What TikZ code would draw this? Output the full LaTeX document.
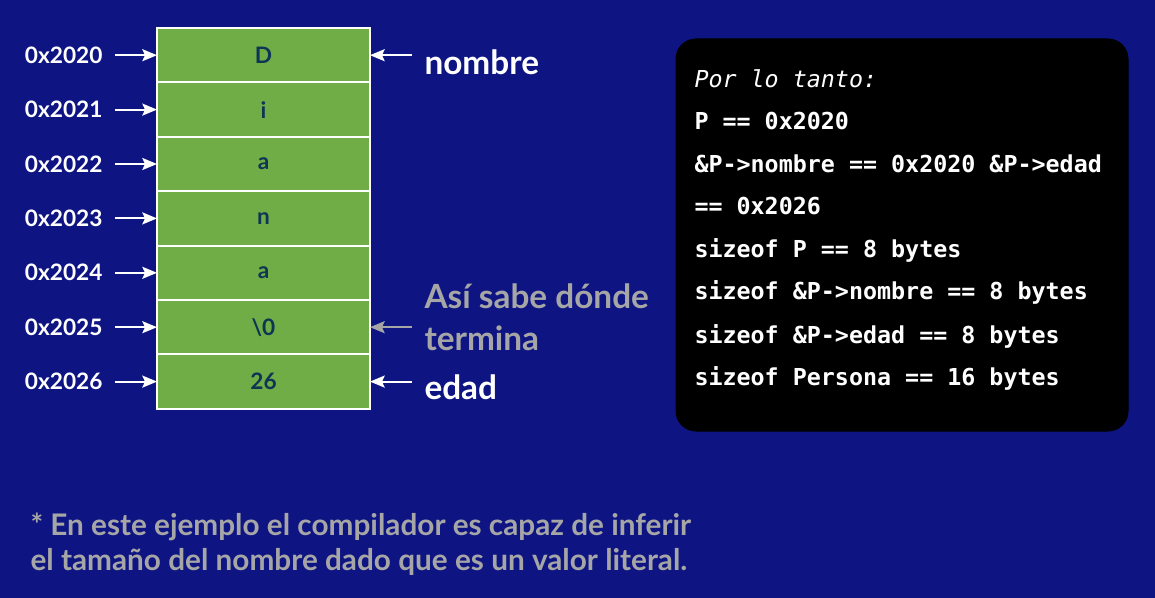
\documentclass[tikz,border=0pt]{standalone}
\usepackage{fontspec}
\setmainfont{Lato}
\setmonofont{DejaVu Sans Mono}
\usetikzlibrary{positioning,arrows.meta}

\definecolor{fondo}{RGB}{14,21,131}
\definecolor{verde}{RGB}{112,173,71}
\definecolor{tinta}{RGB}{16,52,84}
\definecolor{gris}{RGB}{166,166,166}

\tikzset{every picture/.style={line width=0.75pt}}
\tikzset{
  celda/.style={draw=white, line width=1.5pt, fill=verde, outer sep=0pt, inner sep=0pt,
    minimum width=159.75pt, minimum height=40.8pt, text=tinta,
    font=\fontsize{17}{20}\selectfont\bfseries},
  dir/.style={text=white, inner xsep=9pt, inner ysep=0.75pt,
    font=\fontsize{17}{20}\selectfont\bfseries},
  etiqueta/.style={text=white, inner xsep=9pt, inner ysep=0.75pt, align=left,
    font=\fontsize{25}{31.5}\selectfont\bfseries},
  codigo/.style={text=white, inner sep=0pt, anchor=base west,
    font=\fontsize{17.5}{20}\selectfont\ttfamily\bfseries},
  flecha/.style={draw=white, line width=1.5pt, -{Stealth[length=11pt,width=9pt,inset=2pt]}},
}

\begin{document}
\begin{tikzpicture}[x=0.75pt,y=0.75pt,yscale=-1,xscale=1]
\useasboundingbox (0,0) rectangle (1155,598);
\fill [fondo] (0,0) rectangle (1155,598);

%Shape: Memory cells
\node [celda] (c0) at (263.5,55.2) {D};
\node [celda, below=0pt of c0] (c1) {i};
\node [celda, below=0pt of c1] (c2) {a};
\node [celda, below=0pt of c2] (c3) {n};
\node [celda, below=0pt of c3] (c4) {a};
\node [celda, below=0pt of c4] (c5) {\textbackslash0};
\node [celda, below=0pt of c5] (c6) {26};

% Text Node
\node [dir, left=31.5pt of c0] (a0) {0x2020};
\node [dir, left=31.5pt of c1] (a1) {0x2021};
\node [dir, left=31.5pt of c2] (a2) {0x2022};
\node [dir, left=31.5pt of c3] (a3) {0x2023};
\node [dir, left=31.5pt of c4] (a4) {0x2024};
\node [dir, left=31.5pt of c5] (a5) {0x2025};
\node [dir, left=31.5pt of c6] (a6) {0x2026};

%Straight Lines
\draw [flecha] (a0) -- (c0);
\draw [flecha] (a1) -- (c1);
\draw [flecha] (a2) -- (c2);
\draw [flecha] (a3) -- (c3);
\draw [flecha] (a4) -- (c4);
\draw [flecha] (a5) -- (c5);
\draw [flecha] (a6) -- (c6);

% Text Node
\node [etiqueta, anchor=base west] (nombre) at (412,75) {nombre};
\node [etiqueta, anchor=base west, text=gris] (fin) at (412,350) {Así sabe dónde\\termina};
\node [etiqueta, anchor=base west] (edad) at (412,399) {edad};

%Straight Lines
\draw [flecha] (nombre.west |- c0.east) -- (c0.east);
\draw [flecha, draw=gris] (fin.west |- c5.east) -- (c5.east);
\draw [flecha] (edad.west |- c6.east) -- (c6.east);

%Shape: Rounded Rect
\draw [fill=black, rounded corners=15pt] (676,39) rectangle (1128,431);

% Text Node
\node [codigo, font=\fontsize{17.5}{20}\selectfont\ttfamily\itshape] (t1) at (694,88) {Por lo tanto:};
\node [codigo] (t2) at (694,130) {P == 0x2020};
\node [codigo] (t3) at (694,173) {\&P->nombre == 0x2020 \&P->edad};
\node [codigo] (t4) at (694,215) {== 0x2026};
\node [codigo] (t5) at (694,258) {sizeof P == 8 bytes};
\node [codigo] (t6) at (694,300) {sizeof \&P->nombre == 8 bytes};
\node [codigo] (t7) at (694,343) {sizeof \&P->edad == 8 bytes};
\node [codigo] (t8) at (694,385) {sizeof Persona == 16 bytes};

% Text Node
\node [anchor=base west, inner sep=0pt, align=left, text=gris,
  font=\fontsize{22.3}{26.25}\selectfont\bfseries] (nota) at (30,570)
  {* En este ejemplo el compilador es capaz de inferir\\el tamaño del nombre dado que es un valor literal.};

\end{tikzpicture}
\end{document}
